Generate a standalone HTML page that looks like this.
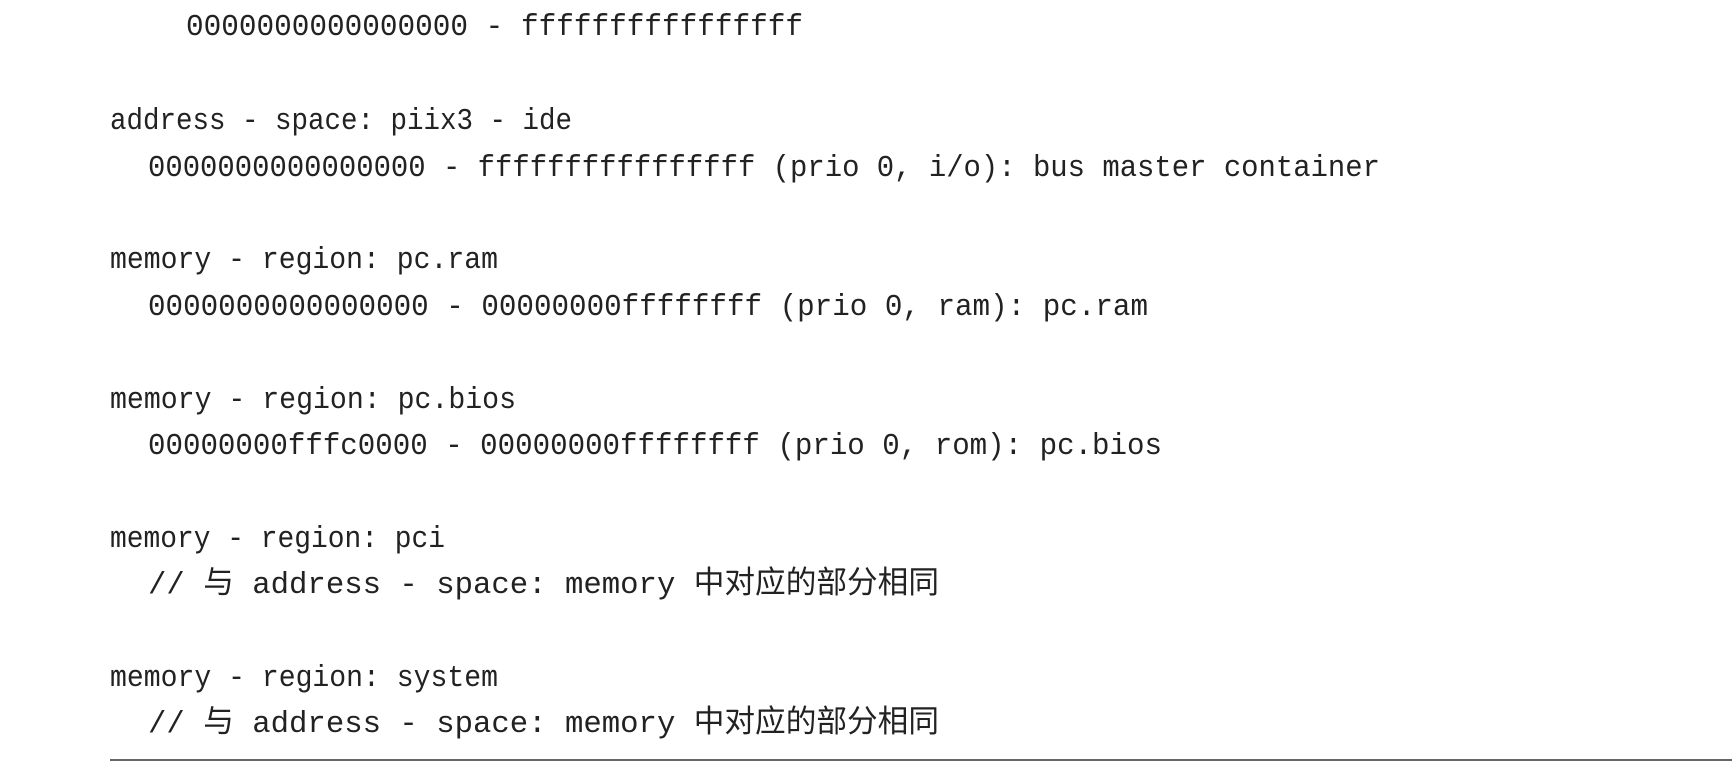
<!DOCTYPE html>
<html><head><meta charset="utf-8"><style>
html,body{margin:0;padding:0;background:#fff;}
svg{display:block;}
text{font-family:"Liberation Mono","Noto Sans CJK SC",monospace;font-size:31px;fill:#222;}
</style></head><body>
<svg width="1732" height="768" viewBox="0 0 1732 768" xmlns="http://www.w3.org/2000/svg">
<text x="186" y="35" textLength="617" lengthAdjust="spacingAndGlyphs">0000000000000000 - ffffffffffffffff</text>
<text x="110" y="129" textLength="462" lengthAdjust="spacingAndGlyphs">address - space: piix3 - ide</text>
<text x="148" y="176" textLength="1232" lengthAdjust="spacingAndGlyphs">0000000000000000 - ffffffffffffffff (prio 0, i/o): bus master container</text>
<text x="110" y="268" textLength="388" lengthAdjust="spacingAndGlyphs">memory - region: pc.ram</text>
<text x="148" y="315" textLength="1000" lengthAdjust="spacingAndGlyphs">0000000000000000 - 00000000ffffffff (prio 0, ram): pc.ram</text>
<text x="110" y="408" textLength="406" lengthAdjust="spacingAndGlyphs">memory - region: pc.bios</text>
<text x="148" y="454" textLength="1014" lengthAdjust="spacingAndGlyphs">00000000fffc0000 - 00000000ffffffff (prio 0, rom): pc.bios</text>
<text x="110" y="547" textLength="335" lengthAdjust="spacingAndGlyphs">memory - region: pci</text>
<text x="148" y="593" textLength="791" lengthAdjust="spacingAndGlyphs">// 与 address - space: memory 中对应的部分相同</text>
<text x="110" y="686" textLength="388" lengthAdjust="spacingAndGlyphs">memory - region: system</text>
<text x="148" y="732" textLength="791" lengthAdjust="spacingAndGlyphs">// 与 address - space: memory 中对应的部分相同</text>
<line x1="110" y1="760" x2="1732" y2="760" stroke="#333" stroke-width="1.6"/>
</svg>
</body></html>
